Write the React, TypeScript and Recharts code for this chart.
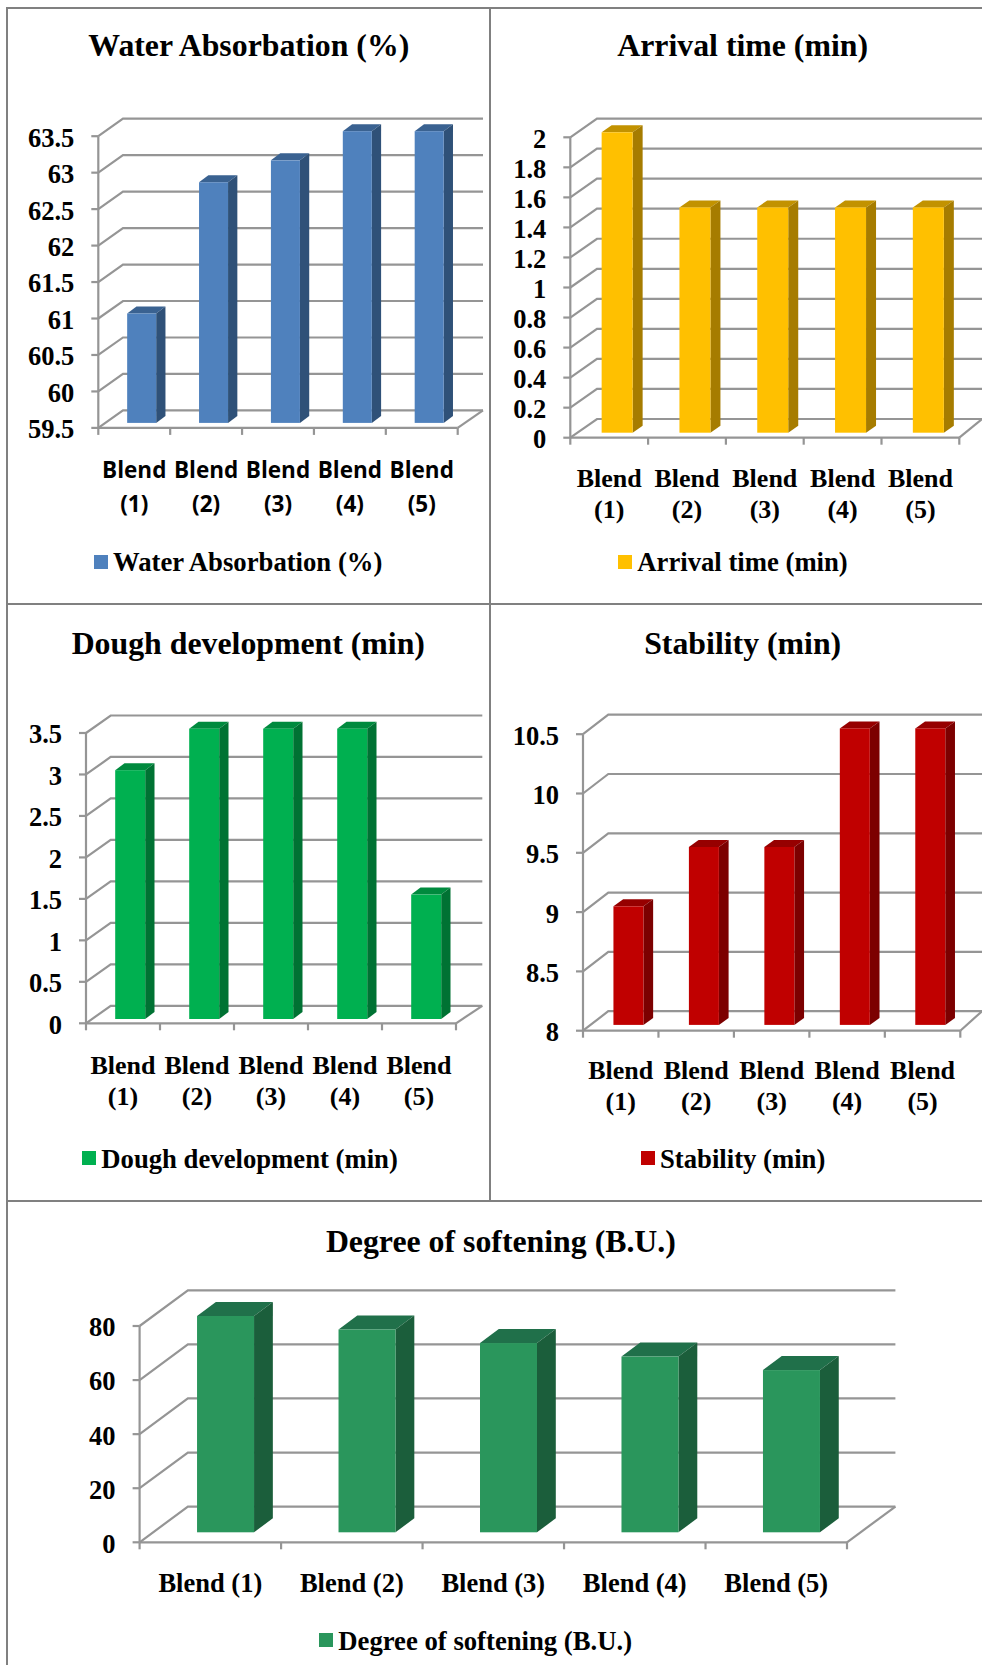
import React from 'react';
import { BarChart, Bar, XAxis, YAxis, CartesianGrid, Legend } from 'recharts';

const blends = ['Blend (1)', 'Blend (2)', 'Blend (3)', 'Blend (4)', 'Blend (5)'];

const waterAbsorbation = [61, 62.8, 63.1, 63.5, 63.5];
const arrivalTime = [2, 1.5, 1.5, 1.5, 1.5];
const doughDevelopment = [3, 3.5, 3.5, 3.5, 1.5];
const stability = [9, 9.5, 9.5, 10.5, 10.5];
const softening = [80, 75, 70, 65, 60];

const waterTicks = [59.5, 60, 60.5, 61, 61.5, 62, 62.5, 63, 63.5];
const arrivalTicks = [0, 0.2, 0.4, 0.6, 0.8, 1, 1.2, 1.4, 1.6, 1.8, 2];
const doughTicks = [0, 0.5, 1, 1.5, 2, 2.5, 3, 3.5];
const stabilityTicks = [8, 8.5, 9, 9.5, 10, 10.5];
const softeningTicks = [0, 20, 40, 60, 80];

const SERIF = '"Liberation Serif", serif';
const GRID = '#959595';

const panels = [
  {
    title: 'Water Absorbation (%)', values: waterAbsorbation, ticks: waterTicks,
    box: [8, 8, 482, 596], plot: [98.3, 457.7, 136.2, 427.9], wall: [24.7, 17.5, 483], bar: [7.3, 5, 9.3, 7],
    colors: ['#4f81bd', '#2f5178', '#3a6291'], titleAt: [248.8, 57, 31.8], legendAt: [94, 554.5, 571.5],
    tickFont: '"Open Sans", sans-serif', tickSize: 22.5, lines: [50.5, 84.3],
  },
  {
    title: 'Arrival time (min)', values: arrivalTime, ticks: arrivalTicks,
    box: [491, 8, 491, 596], plot: [570.3, 959.3, 137.3, 437.7], wall: [26.7, 18.7, 982], bar: [8, 5, 10, 7],
    colors: ['#ffc000', '#a67c00', '#c29200'], titleAt: [742.7, 57, 31.8], legendAt: [618.3, 554.5, 571],
    tickFont: SERIF, tickSize: 26, lines: [49, 80],
  },
  {
    title: 'Dough development (min)', values: doughDevelopment, ticks: doughTicks,
    box: [8, 605, 482, 596], plot: [86, 456, 733, 1023.3], wall: [24.7, 17.5, 482.3], bar: [7, 4.3, 9.3, 7],
    colors: ['#00b050', '#007233', '#008a3e'], titleAt: [248.3, 654.5, 31.8], legendAt: [82.3, 1151.3, 1168.5],
    tickFont: SERIF, tickSize: 26, lines: [51, 82],
  },
  {
    title: 'Stability (min)', values: stability, ticks: stabilityTicks,
    box: [491, 605, 491, 596], plot: [583, 960.3, 734.2, 1030.7], wall: [25.3, 19.5, 982], bar: [7.8, 5.8, 9.7, 7],
    colors: ['#c00000', '#7c0000', '#960000'], titleAt: [742.7, 654.5, 31.8], legendAt: [641, 1151.3, 1168.8],
    tickFont: SERIF, tickSize: 26, lines: [48.5, 79],
  },
  {
    title: 'Degree of softening (B.U.)', values: softening, ticks: softeningTicks,
    box: [8, 1202, 974, 463], plot: [139.6, 847, 1326, 1542.3], wall: [48.3, 35.7, 895.4], bar: [15, 10, 18.8, 14],
    colors: ['#2a965c', '#1b5e3b', '#20704a'], titleAt: [500.9, 1252.5, 31.8], legendAt: [319.3, 1633, 1650],
    tickFont: SERIF, tickSize: 26.5, lines: [49.4],
  },
];

function Bar3D({ x, y, width, height, fill, bar, colors }: any) {
  const [ox, oy, dx, dy] = bar;
  const fx = x + ox;
  const fy = y - oy;
  return (
    <g>
      <polygon points={`${fx},${fy} ${fx + dx},${fy - dy} ${fx + width + dx},${fy - dy} ${fx + width},${fy}`} fill={colors[2]} />
      <polygon points={`${fx + width},${fy} ${fx + width + dx},${fy - dy} ${fx + width + dx},${fy + height - dy} ${fx + width},${fy + height}`} fill={colors[1]} />
      <rect x={fx} y={fy} width={width} height={height} fill={fill} />
    </g>
  );
}

function WallLine({ x1, y1, x2, wall, originX, isFloor }: any) {
  const [dx, dy, rightEdge] = wall;
  const right = rightEdge - originX;
  return (
    <g>
      <path d={`M${x1} ${y1}L${x1 + dx} ${y1 - dy}L${right} ${y1 - dy}`} fill="none" stroke={GRID} strokeWidth={2.2} />
      {isFloor ? <path d={`M${x2} ${y1}L${right} ${y1 - dy}`} fill="none" stroke={GRID} strokeWidth={2.2} /> : null}
    </g>
  );
}

function BlendTick({ x, y, payload, index, band, font, size, lines }: any) {
  const text = String(payload.value);
  const parts = lines.length > 1 ? text.split(' ') : [text];
  return (
    <g>
      <line x1={x - band / 2} y1={y} x2={x - band / 2} y2={y + 7} stroke={GRID} strokeWidth={2.2} />
      {index === blends.length - 1 ? <line x1={x + band / 2} y1={y} x2={x + band / 2} y2={y + 7} stroke={GRID} strokeWidth={2.2} /> : null}
      {parts.map((part: string, i: number) => (
        <text key={part} x={x} y={y + lines[i]} textAnchor="middle" fontFamily={font} fontSize={size} fontWeight="bold" fill="#000">
          {part}
        </text>
      ))}
    </g>
  );
}

function LegendRow({ payload, baseline, top }: any) {
  return (
    <div>
      {(payload || []).map((entry: any) => (
        <div key={entry.value} style={{ position: 'relative', whiteSpace: 'nowrap' }}>
          <span style={{ position: 'absolute', left: 0, top: 0, width: 14, height: 14, background: entry.color }} />
          <span style={{ position: 'absolute', left: 19, top: baseline - top - 0.8375 * 26.7, font: `bold 26.7px/1 ${SERIF}`, color: '#000' }}>
            {entry.value}
          </span>
        </div>
      ))}
    </div>
  );
}

function Panel({ p }: any) {
  const [bl, bt, bw, bh] = p.box;
  const [left, right, top, bottom] = p.plot;
  const rows = blends.map((name: string, i: number) => ({ name, value: p.values[i] }));
  const band = (right - left) / blends.length;
  const [tx, tb, ts] = p.titleAt;
  const [lx, ly, lb] = p.legendAt;
  return (
    <>
      <div style={{ position: 'absolute', left: tx - 300, width: 600, top: tb - 0.8375 * ts, textAlign: 'center', font: `bold ${ts}px/1 ${SERIF}`, color: '#000' }}>
        {p.title}
      </div>
      <div style={{ position: 'absolute', left: bl, top: bt }}>
        <BarChart
          width={bw}
          height={bh}
          data={rows}
          barCategoryGap="30%"
          margin={{ left: 0, top: top - bt, right: bl + bw - right, bottom: 0 }}
        >
          <CartesianGrid
            vertical={false}
            horizontal={(g: any) => <WallLine key={g.key} {...g} wall={p.wall} originX={bl} isFloor={Math.abs(g.y1 - bottom + bt) < 1} />}
          />
          <XAxis
            dataKey="name"
            interval={0}
            height={bt + bh - bottom}
            tickLine={false}
            tickSize={0}
            tickMargin={0}
            axisLine={{ stroke: GRID, strokeWidth: 2.2 }}
            tick={(t: any) => <BlendTick key={t.index} {...t} band={band} font={p.tickFont} size={p.tickSize} lines={p.lines} />}
          />
          <YAxis
            type="number"
            domain={[p.ticks[0], p.ticks[p.ticks.length - 1]]}
            ticks={p.ticks}
            interval={0}
            width={left - bl}
            tickSize={7}
            tickMargin={17}
            axisLine={{ stroke: GRID, strokeWidth: 2.2 }}
            tickLine={{ stroke: GRID, strokeWidth: 2.2 }}
            tick={{ fontFamily: SERIF, fontSize: 26.5, fontWeight: 'bold', fill: '#000', dy: 1 }}
          />
          <Legend
            layout="horizontal"
            verticalAlign="middle"
            align="center"
            wrapperStyle={{ left: lx - bl, top: ly - bt, width: 10, height: 14, margin: 0 }}
            content={(c: any) => <LegendRow payload={c.payload} baseline={lb} top={ly} />}
          />
          <Bar
            dataKey="value"
            name={p.title}
            fill={p.colors[0]}
            isAnimationActive={false}
            shape={(s: any) => <Bar3D {...s} fill={p.colors[0]} bar={p.bar} colors={p.colors} />}
          />
        </BarChart>
      </div>
    </>
  );
}

export default function App() {
  const line = '#808080';
  return (
    <div style={{ position: 'absolute', left: 0, top: 0, width: 982, height: 1665, background: '#fff', overflow: 'hidden' }}>
      {panels.map((p) => <Panel key={p.title} p={p} />)}
      <div style={{ position: 'absolute', left: 6, top: 7, width: 976, height: 2, background: line }} />
      <div style={{ position: 'absolute', left: 6, top: 7, width: 2, height: 1658, background: line }} />
      <div style={{ position: 'absolute', left: 489, top: 7, width: 2, height: 1194, background: line }} />
      <div style={{ position: 'absolute', left: 6, top: 603, width: 976, height: 2, background: line }} />
      <div style={{ position: 'absolute', left: 6, top: 1200, width: 976, height: 2, background: line }} />
    </div>
  );
}
